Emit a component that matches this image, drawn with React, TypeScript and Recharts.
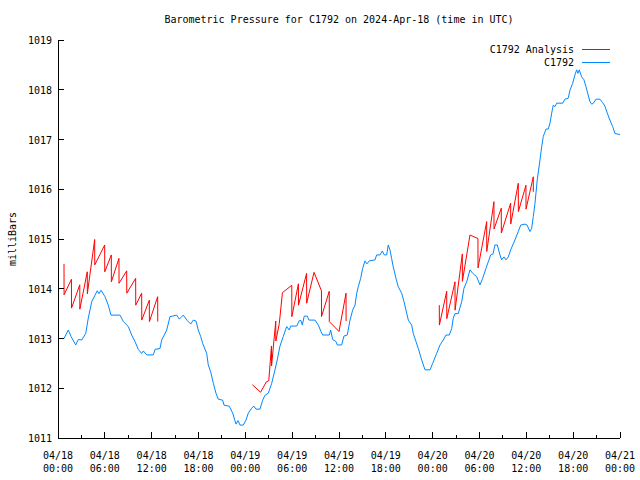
import React from 'react';
import { LineChart, Line, XAxis, YAxis } from 'recharts';

// ---- data ----
const blueHours = [0, 0.77, 1.32, 1.67, 2.27, 2.6, 3.04, 3.55, 3.88, 4.32,
  4.74, 5.03, 5.25, 5.51, 6.02, 6.44, 6.79, 7.94, 8.37, 9.01,
  9.44, 9.86, 10.29, 10.72, 10.93, 11.36, 12.21, 12.43, 13.07, 13.28,
  13.93, 14.35, 15.21, 15.54, 16.05, 16.56, 17.0, 17.33, 17.68, 17.97,
  18.28, 18.54, 19.05, 19.25, 19.56, 19.9, 20.24, 20.54, 21.1, 21.27,
  21.94, 22.38, 22.8, 23.06, 23.32, 23.74, 24.08, 24.38, 24.81, 25.11,
  25.37, 25.88, 26.22, 26.52, 26.94, 27.38, 27.8, 28.09, 28.44, 28.86,
  29.3, 29.63, 29.81, 30.58, 30.91, 31.13, 31.3, 31.55, 31.94, 32.15,
  32.92, 33.35, 33.69, 33.91, 34.76, 34.93, 35.19, 35.61, 35.78, 36.34,
  36.64, 37.06, 37.41, 37.75, 38.05, 38.27, 38.47, 38.78, 39.03, 39.33,
  39.58, 39.88, 40.61, 40.83, 41.25, 41.55, 41.8, 42.11, 42.31, 42.53,
  42.74, 42.95, 43.3, 43.59, 44.03, 44.33, 44.58, 44.88, 45.31, 45.52,
  45.86, 46.16, 46.59, 47.02, 47.66, 48.0, 48.51, 48.94, 49.36, 49.71,
  50.13, 50.44, 50.64, 50.86, 51.28, 51.72, 52.01, 52.36, 52.78, 53.13,
  53.64, 54.06, 54.41, 54.83, 55.12, 55.43, 55.73, 55.98, 56.28, 56.62,
  56.84, 57.14, 57.39, 57.69, 57.99, 58.54, 58.97, 59.28, 59.83, 60.09,
  60.47, 60.68, 60.89, 61.11, 61.4, 61.75, 61.97, 62.17, 62.52, 62.81,
  63.03, 63.25, 63.45, 63.67, 63.89, 64.66, 64.95, 65.37, 65.59, 65.94,
  66.23, 66.45, 66.62, 66.78, 67.09, 67.38, 67.64, 67.86, 68.15, 68.37,
  68.6, 68.92, 69.43, 69.78, 70.07, 70.37, 70.71, 71.06, 71.36, 72];

const blueValues = [1013.0, 1013.0, 1013.17, 1013.04, 1012.87, 1012.98, 1012.97, 1013.1, 1013.41, 1013.74,
  1013.87, 1013.96, 1013.9, 1013.97, 1013.84, 1013.67, 1013.47, 1013.47, 1013.34, 1013.24,
  1013.07, 1012.94, 1012.78, 1012.7, 1012.75, 1012.67, 1012.67, 1012.78, 1012.8, 1012.97,
  1013.17, 1013.44, 1013.47, 1013.39, 1013.47, 1013.36, 1013.29, 1013.37, 1013.35, 1013.17,
  1013.04, 1012.9, 1012.7, 1012.47, 1012.33, 1012.1, 1011.9, 1011.78, 1011.76, 1011.66,
  1011.64, 1011.5, 1011.28, 1011.35, 1011.26, 1011.26, 1011.36, 1011.5, 1011.6, 1011.64,
  1011.58, 1011.58, 1011.76, 1011.86, 1011.9, 1012.1, 1012.37, 1012.57, 1012.85, 1013.04,
  1013.24, 1013.17, 1013.25, 1013.25, 1013.36, 1013.36, 1013.27, 1013.45, 1013.45, 1013.37,
  1013.37, 1013.27, 1013.14, 1013.07, 1013.07, 1013.17, 1012.98, 1012.94, 1012.87, 1012.87,
  1013.05, 1013.07, 1013.37, 1013.57, 1013.67, 1013.91, 1014.04, 1014.21, 1014.41, 1014.56,
  1014.5, 1014.56, 1014.58, 1014.68, 1014.68, 1014.76, 1014.68, 1014.68, 1014.88, 1014.78,
  1014.61, 1014.44, 1014.21, 1014.04, 1013.91, 1013.74, 1013.57, 1013.37, 1013.27, 1013.1,
  1012.94, 1012.8, 1012.57, 1012.37, 1012.37, 1012.5, 1012.7, 1012.87, 1012.97, 1013.07,
  1013.07, 1013.2, 1013.41, 1013.5, 1013.5, 1013.74, 1014.01, 1014.14, 1014.38, 1014.31,
  1014.24, 1014.08, 1014.21, 1014.41, 1014.54, 1014.68, 1014.7, 1014.88, 1014.88, 1014.68,
  1014.58, 1014.64, 1014.58, 1014.64, 1014.78, 1014.98, 1015.15, 1015.28, 1015.3, 1015.28,
  1015.15, 1015.21, 1015.45, 1015.72, 1016.19, 1016.59, 1016.86, 1017.06, 1017.21, 1017.21,
  1017.33, 1017.53, 1017.69, 1017.66, 1017.73, 1017.73, 1017.81, 1017.83, 1017.99, 1018.13,
  1018.3, 1018.4, 1018.33, 1018.4, 1018.26, 1018.2, 1018.06, 1017.93, 1017.76, 1017.71,
  1017.73, 1017.81, 1017.81, 1017.74, 1017.67, 1017.53, 1017.39, 1017.26, 1017.12, 1017.1];

// Analysis series, three separate runs (sawtooth: ramp then drop)
const analysis1Hours = [0.77, 0.78, 1.72, 1.73, 2.79, 2.8, 3.75, 3.76, 4.7, 4.71, 5.98, 5.99, 6.83, 6.84,
  7.81, 7.82, 8.8, 8.81, 9.95, 9.96, 10.72, 10.73, 11.7, 11.71, 12.77, 12.78];
const analysis1Values = [1014.5, 1013.88, 1014.19, 1013.61, 1014.08, 1013.59, 1014.34, 1013.9, 1014.99, 1014.48,
  1014.88, 1014.34, 1014.68, 1014.14, 1014.61, 1014.11, 1014.36, 1013.91, 1014.21, 1013.67,
  1013.91, 1013.37, 1013.77, 1013.34, 1013.84, 1013.34];

const analysis2Hours = [24.9, 25.95, 26.7, 27.0, 27.35, 27.36, 27.9, 27.91, 28.35, 28.75, 29.95, 29.96,
  30.8, 30.81, 31.85, 31.86, 32.8, 33.75, 33.76, 34.75, 34.76, 36.0, 36.9, 36.91];
const analysis2Values = [1012.07, 1011.92, 1012.13, 1012.15, 1012.85, 1012.45, 1013.35, 1012.95, 1013.3, 1013.92, 1014.07, 1013.44,
  1014.1, 1013.67, 1014.31, 1013.71, 1014.33, 1013.96, 1013.44, 1013.95, 1013.34, 1013.14, 1013.91, 1013.35];

const analysis3Hours = [48.85, 48.86, 49.8, 49.81, 50.86, 50.87, 51.8, 51.81, 52.78, 53.8, 53.81,
  54.92, 54.93, 55.85, 55.86, 56.79, 56.8, 57.99, 58.0, 58.97, 58.98, 59.95, 59.96, 60.89, 60.9];
const analysis3Values = [1013.67, 1013.27, 1013.95, 1013.4, 1014.14, 1013.57, 1014.7, 1014.15, 1015.08, 1015.01, 1014.42,
  1015.35, 1014.75, 1015.75, 1015.2, 1015.62, 1015.12, 1015.72, 1015.3, 1016.12, 1015.55, 1016.08, 1015.6, 1016.25, 1015.95];

const majorTickHours = [0, 6, 12, 18, 24, 30, 36, 42, 48, 54, 60, 66, 72];
const minorTickHours = [3, 9, 15, 21, 27, 33, 39, 45, 51, 57, 63, 69];
const tickDates = ['04/18', '04/18', '04/18', '04/18', '04/19', '04/19', '04/19', '04/19', '04/20', '04/20', '04/20', '04/20', '04/21'];
const tickTimes = ['00:00', '06:00', '12:00', '18:00', '00:00', '06:00', '12:00', '18:00', '00:00', '06:00', '12:00', '18:00', '00:00'];
const yTicks = [1011, 1012, 1013, 1014, 1015, 1016, 1017, 1018, 1019];

const titleText = 'Barometric Pressure for C1792 on 2024-Apr-18 (time in UTC)';
const seriesNames = ['C1792 Analysis', 'C1792'];

// ---- build tables ----
const zip = (h: number[], v: number[]) => h.map((t, i) => ({ t, v: v[i] }));
const blueData = zip(blueHours, blueValues);
const red1 = zip(analysis1Hours, analysis1Values);
const red2 = zip(analysis2Hours, analysis2Values);
const red3 = zip(analysis3Hours, analysis3Values);
const xTicks = [...majorTickHours, ...minorTickHours].sort((a, b) => a - b);

const RED = '#ff0000';
const BLUE = '#0088ff';
const FONT = '"DejaVu Sans Mono", "Liberation Mono", monospace';

const BottomTick = (props: any) => {
  const { x, y, payload } = props;
  const idx = majorTickHours.indexOf(payload.value);
  const major = idx >= 0;
  return (
    <g>
      <line x1={x} y1={y} x2={x} y2={y - (major ? 6 : 3)} stroke="#000" shapeRendering="crispEdges" />
      {major && (
        <text x={x} y={y + 21} textAnchor="middle" fontFamily={FONT} fontSize={10} fill="#000">{tickDates[idx]}</text>
      )}
      {major && (
        <text x={x} y={y + 34} textAnchor="middle" fontFamily={FONT} fontSize={10} fill="#000">{tickTimes[idx]}</text>
      )}
    </g>
  );
};

const TopTick = (props: any) => {
  const { x, y, payload } = props;
  const major = majorTickHours.indexOf(payload.value) >= 0;
  return <line x1={x} y1={y} x2={x} y2={y + (major ? 6 : 3)} stroke="#000" shapeRendering="crispEdges" />;
};

const LeftTick = (props: any) => {
  const { x, y, payload } = props;
  return (
    <g>
      <line x1={x} y1={y} x2={x + 6} y2={y} stroke="#000" shapeRendering="crispEdges" />
      <text x={x - 6} y={y + 4} textAnchor="end" fontFamily={FONT} fontSize={10} fill="#000">{payload.value}</text>
    </g>
  );
};

const RightTick = (props: any) => {
  const { x, y } = props;
  return <line x1={x} y1={y} x2={x - 6} y2={y} stroke="#000" shapeRendering="crispEdges" />;
};

const YLabel = (props: any) => {
  const vb = props.viewBox || { x: 0, y: 40, width: 58, height: 398 };
  const cx = vb.x + 16;
  const cy = vb.y + vb.height / 2;
  return (
    <text x={cx} y={cy} transform={`rotate(-90 ${cx} ${cy})`} textAnchor="middle" fontFamily={FONT} fontSize={10} fill="#000">milliBars</text>
  );
};

export default function App() {
  return (
    <div style={{ position: 'absolute', left: 0, top: 0, width: 640, height: 480, background: '#fff' }}>
      <LineChart width={640} height={480} margin={{ top: 40, right: 20, bottom: 0, left: 0 }}>
        <XAxis xAxisId="b" type="number" dataKey="t" domain={[0, 72]} ticks={xTicks} interval={0}
          tick={BottomTick} tickLine={false} tickSize={0} tickMargin={0} height={42}
          axisLine={{ stroke: '#000', shapeRendering: 'crispEdges' }} allowDataOverflow />
        <XAxis xAxisId="t" orientation="top" type="number" dataKey="t" domain={[0, 72]} ticks={xTicks} interval={0}
          tick={TopTick} tickLine={false} tickSize={0} tickMargin={0} height={0}
          axisLine={{ stroke: '#000', shapeRendering: 'crispEdges' }} allowDataOverflow />
        <YAxis yAxisId="l" type="number" domain={[1011, 1019]} ticks={yTicks} interval={0} width={58}
          tick={LeftTick} tickLine={false} tickSize={0} tickMargin={0}
          axisLine={{ stroke: '#000', shapeRendering: 'crispEdges' }} allowDataOverflow
          label={{ content: YLabel }} />
        <YAxis yAxisId="r" orientation="right" type="number" domain={[1011, 1019]} ticks={yTicks} interval={0} width={0}
          tick={RightTick} tickLine={false} tickSize={0} tickMargin={0}
          axisLine={{ stroke: '#000', shapeRendering: 'crispEdges' }} allowDataOverflow />
        <Line xAxisId="b" yAxisId="l" data={red1} dataKey="v" type="linear" stroke={RED} strokeWidth={1} dot={false} isAnimationActive={false} name={seriesNames[0]} />
        <Line xAxisId="b" yAxisId="l" data={red2} dataKey="v" type="linear" stroke={RED} strokeWidth={1} dot={false} isAnimationActive={false} />
        <Line xAxisId="b" yAxisId="l" data={red3} dataKey="v" type="linear" stroke={RED} strokeWidth={1} dot={false} isAnimationActive={false} />
        <Line xAxisId="b" yAxisId="l" data={blueData} dataKey="v" type="linear" stroke={BLUE} strokeWidth={1} dot={false} isAnimationActive={false} name={seriesNames[1]} />
      </LineChart>
      <div style={{ position: 'absolute', left: 0, top: 13, width: 678, textAlign: 'center', fontFamily: FONT, fontSize: 10, lineHeight: '14px', color: '#000', whiteSpace: 'pre' }}>
        {titleText}
      </div>
      {seriesNames.map((name, i) => (
        <div key={name} style={{ position: 'absolute', left: 380, top: 43 + i * 13, width: 230, height: 13 }}>
          <div style={{ position: 'absolute', right: 36, top: 0, fontFamily: FONT, fontSize: 10, lineHeight: '14px', color: '#000', whiteSpace: 'pre' }}>{name}</div>
          <div style={{ position: 'absolute', left: 202, width: 28, top: 6, height: 1, background: i === 0 ? RED : BLUE }} />
        </div>
      ))}
    </div>
  );
}
